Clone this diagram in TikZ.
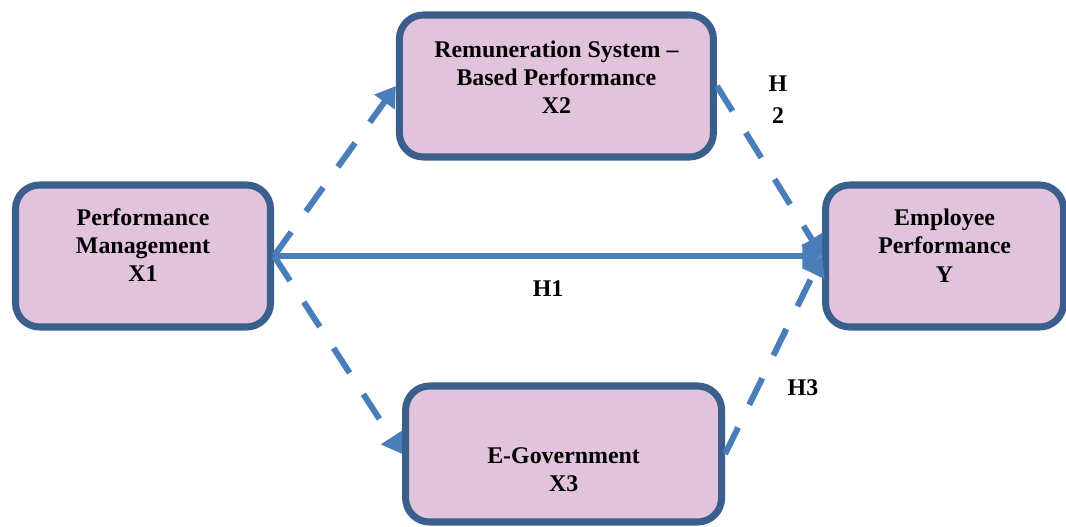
\documentclass[tikz,border=0pt]{standalone}
\usepackage{fontspec}
\setmainfont{Liberation Serif}
\usetikzlibrary{arrows.meta, positioning}

\definecolor{boxfill}{HTML}{E1C4DC}
\definecolor{boxline}{HTML}{3A5F8C}
\definecolor{linkblue}{HTML}{4A7EBB}

\begin{document}
\begin{tikzpicture}[node distance=20.04cm,
    var/.style={rectangle, draw=boxline, fill=boxfill, line width=5pt, rounded corners=0.6cm, minimum height=3.55cm},
    txt/.style={align=center, font=\bfseries\fontsize{17}{20}\selectfont},
    link/.style={draw=linkblue, line width=4.3pt, -{Triangle[length=14pt,width=17pt]}},
    hyp/.style={dash pattern=on 21pt off 18pt},
    tag/.style={font=\bfseries\fontsize{17}{22.8}\selectfont, align=center}]

\useasboundingbox (0,0) rectangle (26.65,13.15);

% Variables
\node [var, minimum width=6.375cm, label={[txt, name=x1text, yshift=0.275cm]center:Performance\\Management\\X1}] (x1) at (3.575,6.75) {};
\node [var, minimum width=5.95cm, right of=x1, label={[txt, name=ytext, yshift=0.26cm]center:Employee\\Performance\\Y}] (y) {};
\node [var, minimum width=7.85cm, label={[txt, name=x2text, yshift=0.225cm]center:Remuneration System --\\Based Performance\\X2}] (x2) at (13.91,11.0) {};
\node [var, minimum width=7.9cm, minimum height=3.4cm, label={[txt, name=x3text, yshift=-0.4cm]center:E-Government\\X3}] (x3) at (14.09,1.8) {};

% Paths between variables
\draw [link] (x1.east) -- node[tag, yshift=-0.82cm] (h1) {H1} (y.west);
\draw [link, hyp] (x1.east) -- (x2.west);
\draw [link, hyp] (x1.east) -- (x3.west);
\draw [link, hyp] (x2.east) -- (y.west);
\draw [link, hyp] (x3.east) -- (y.west);

% Hypothesis labels
\node [tag] (h2) at (19.45,10.65) {H\\2};
\node [tag] (h3) at (20.075,3.45) {H3};

\end{tikzpicture}
\end{document}
